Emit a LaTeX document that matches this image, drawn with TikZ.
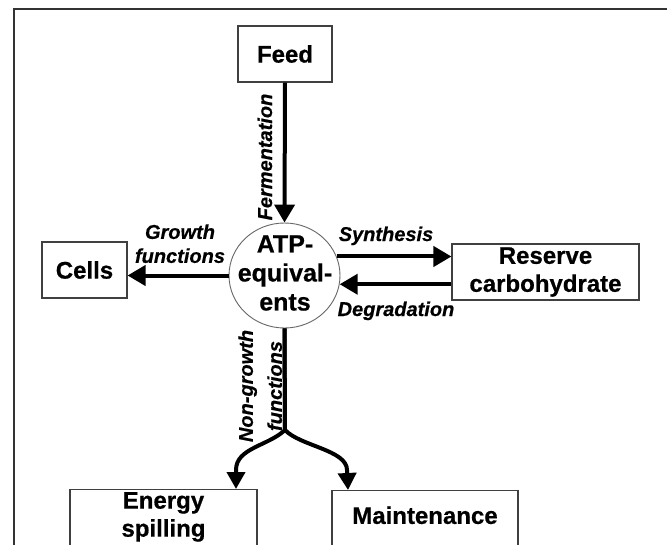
\documentclass[tikz,border=0pt]{standalone}
\usepackage{fontspec}
\setmainfont{Liberation Sans}
\newfontfamily\heavyfont{Liberation Sans}[BoldFeatures={FakeBold=0.6}, BoldItalicFeatures={FakeBold=0.5}]
\usetikzlibrary{arrows.meta,shapes.geometric}
\begin{document}
\begin{tikzpicture}[x=1pt,y=-1pt,
  box/.style={draw=black!75, line width=1.1pt, fill=white, inner sep=0pt,
    font=\heavyfont\fontsize{24}{28}\selectfont\bfseries, align=center},
  boxtext/.style={inner sep=0pt, font=\heavyfont\fontsize{24}{28}\selectfont\bfseries, align=center},
  atptext/.style={inner sep=0pt, font=\heavyfont\fontsize{25}{29}\selectfont\bfseries, align=center},
  lbl/.style={inner sep=0pt, font=\heavyfont\fontsize{20}{24}\selectfont\bfseries\itshape, align=center},
  arr/.style={line width=4pt, -{Triangle[width=20pt,length=18pt]}},
  arrs/.style={line width=4pt, -{Triangle[width=18pt,length=17pt]}},
  frameline/.style={line width=2pt, draw=black!80}]
\useasboundingbox (0,0) rectangle (667,544);
\clip (0,0) rectangle (667,544);
\fill[white] (0,0) rectangle (667,544);
\draw[frameline] (14,560) -- (14,8.5) -- (680,8.5);

% boxes
\node[box, minimum width=94pt, minimum height=56pt] (feed) at (285,54) {Feed};
\node[box, minimum width=85pt, minimum height=56pt] (cells) at (84.5,270) {Cells};
\node[box, minimum width=187pt, minimum height=56pt] (reserve) at (545.5,272) {Reserve\\carbohydrate};
\node[box, minimum width=187pt, minimum height=70pt, anchor=north] (energy) at (163.5,489) {};
\node[box, minimum width=186pt, minimum height=70pt, anchor=north] (maint) at (425,490) {};
\node[boxtext] (energyT) at (163.5,516.9) {Energy\\spilling};
\node[boxtext] (maintT) at (425,515.3) {Maintenance};

% ATP ellipse
\node[ellipse, draw=black!60, line width=0.9pt, fill=white, inner sep=0pt,
      minimum width=111pt, minimum height=105pt] (atp) at (284.5,275.5) {};
\node[atptext] (atpT) at (285,273) {ATP-\\equival-\\ents};

% connectors
\draw[arr] (feed.south) -- (atp.north);
\draw[arr] (atp.20.7) -- (atp.20.7 -| reserve.west);
\draw[arr] (atp.-9.9 -| reserve.west) -- (atp.-9.9);
\draw[arr] (atp.west) -- (atp.west -| cells.east);

\coordinate (split) at (285,430);
\coordinate (etip) at (236,489);
\coordinate (mtip) at (348,490);
\draw[arrs] (atp.south) -- (split) .. controls (268,446) and (236,448) .. (236,470) -- (etip);
\draw[arrs] (atp.south) -- (split) .. controls (300,446) and (347,450) .. (347,470) -- (mtip);

% labels
\node[lbl, rotate=90, anchor=base] (ferm) at (272,157) {Fermentation};
\node[lbl, anchor=base] (synth) at (386,241) {Synthesis};
\node[lbl, anchor=base] (degr) at (396,316) {Degradation};
\node[lbl] (growth) at (180,243.7) {Growth\\functions};
\node[lbl, rotate=90, font=\heavyfont\fontsize{20}{29}\selectfont\bfseries\itshape] (nongrowth) at (260.2,386) {Non-growth\\functions};
\end{tikzpicture}
\end{document}
